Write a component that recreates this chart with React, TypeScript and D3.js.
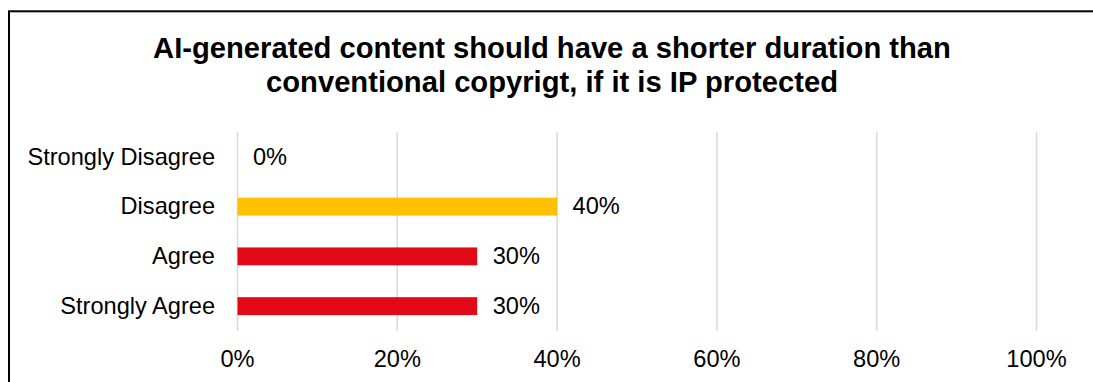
import React from "react";
import * as d3 from "d3";

const titleLines = [
  "AI-generated content should have a shorter duration than",
  "conventional copyrigt, if it is IP protected",
];
const categories = ["Strongly Disagree", "Disagree", "Agree", "Strongly Agree"];
const values = [0, 0.4, 0.3, 0.3];
const barColors = ["#FFC000", "#FFC000", "#E30A17", "#E30A17"];
const xTicks = [0, 0.2, 0.4, 0.6, 0.8, 1.0];

const W = 1093;
const H = 382;
const FONT = "'Liberation Sans', Arial, sans-serif";

export default function App() {
  const x = d3.scaleLinear().domain([0, 1]).range([237.5, 1036.5]);
  const y = d3
    .scaleBand<string>()
    .domain(categories)
    .range([132, 331])
    .paddingInner(0.64)
    .paddingOuter(0.32);
  const fmt = d3.format(".0%");
  const [y0, y1] = y.range();

  return (
    <svg
      width={W}
      height={H}
      style={{ position: "absolute", left: 0, top: 0, display: "block", background: "#fff" }}
    >
      <rect x={9} y={11.3} width={1200} height={500} fill="#fff" stroke="#000" strokeWidth={2} />
      {titleLines.map((t, i) => (
        <text
          key={i}
          x={552}
          y={58.3 + i * 34}
          textAnchor="middle"
          fontFamily={FONT}
          fontWeight="bold"
          fontSize={29.2}
          fill="#000"
        >
          {t}
        </text>
      ))}
      {xTicks.map((t) => (
        <line
          key={"g" + t}
          x1={x(t)}
          x2={x(t)}
          y1={y0}
          y2={y1}
          stroke="#d9d9d9"
          strokeWidth={1.5}
        />
      ))}
      {categories.map((c, i) => (
        <g key={c}>
          {values[i] > 0 && (
            <rect
              x={x(0)}
              y={y(c)!}
              width={x(values[i]) - x(0)}
              height={y.bandwidth()}
              fill={barColors[i]}
            />
          )}
          <text
            x={215}
            y={y(c)! + y.bandwidth() / 2}
            dy="0.33em"
            textAnchor="end"
            fontFamily={FONT}
            fontSize={23.6}
            fill="#000"
          >
            {c}
          </text>
          <text
            x={x(values[i]) + 15.5}
            y={y(c)! + y.bandwidth() / 2}
            dy="0.33em"
            textAnchor="start"
            fontFamily={FONT}
            fontSize={23.6}
            fill="#000"
          >
            {fmt(values[i])}
          </text>
        </g>
      ))}
      {xTicks.map((t) => (
        <text
          key={"t" + t}
          x={x(t)}
          y={367.3}
          textAnchor="middle"
          fontFamily={FONT}
          fontSize={23.6}
          fill="#000"
        >
          {fmt(t)}
        </text>
      ))}
    </svg>
  );
}
